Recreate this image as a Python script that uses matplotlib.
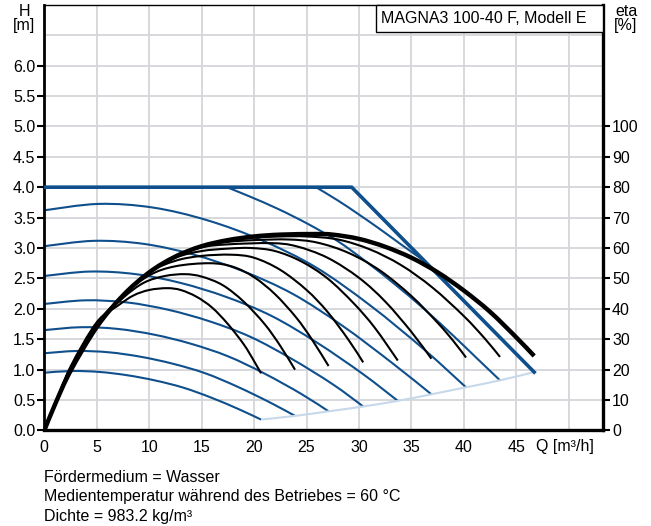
import matplotlib.pyplot as plt
from matplotlib.patches import Rectangle, PathPatch
from matplotlib.path import Path

plt.rcParams['font.family'] = ['Liberation Sans', 'DejaVu Sans']

# Max curve (power/pressure limit), Q [m3/h], H [m]
max_q = [0, 29.3, 46.7]
max_h = [4.0, 4.0, 0.96]

# Speed curves (blue)
speed_q = [
    [0, 2.65, 5.31, 7.96, 10.61, 13.26, 15.92, 18.57, 20.66],
    [0, 3.07, 6.13, 9.20, 12.27, 15.34, 18.40, 21.47, 23.9],
    [0, 3.50, 6.99, 10.49, 13.98, 17.48, 20.98, 24.47, 27.1],
    [0, 3.93, 7.85, 11.78, 15.70, 19.63, 23.55, 27.48, 30.4],
    [0, 4.34, 8.67, 13.01, 17.35, 21.69, 26.02, 30.36, 33.7],
    [0, 4.74, 9.48, 14.21, 18.95, 23.69, 28.43, 33.16, 36.9],
    [0, 5.18, 10.36, 15.54, 20.71, 25.89, 31.07, 36.25, 40.2],
    [17.4, 19.54, 22.34, 25.13, 27.92, 30.71, 33.51, 36.30, 39.09, 41.28, 43.44],
    [25.9, 28.0, 30.0, 32.0, 34.0, 36.2],
]
speed_h = [
    [0.95, 0.978, 0.962, 0.907, 0.821, 0.704, 0.540, 0.348, 0.18],
    [1.27, 1.307, 1.286, 1.212, 1.097, 0.941, 0.721, 0.465, 0.24],
    [1.65, 1.698, 1.670, 1.575, 1.426, 1.222, 0.937, 0.604, 0.315],
    [2.08, 2.140, 2.106, 1.986, 1.798, 1.541, 1.181, 0.762, 0.395],
    [2.54, 2.613, 2.571, 2.425, 2.195, 1.881, 1.442, 0.930, 0.487],
    [3.03, 3.118, 3.068, 2.893, 2.619, 2.245, 1.721, 1.110, 0.595],
    [3.62, 3.725, 3.665, 3.456, 3.129, 2.682, 2.056, 1.326, 0.71],
    [4.0, 3.85, 3.638, 3.396, 3.119, 2.772, 2.391, 1.984, 1.542, 1.18, 0.825],
    [4.0, 3.78, 3.55, 3.31, 3.06, 2.79],
]

# End of the speed curves (light blue)
end_q = [20.66, 23.9, 27.1, 30.4, 33.7, 36.9, 40.2, 43.44, 46.7]
end_h = [0.18, 0.24, 0.315, 0.395, 0.487, 0.595, 0.71, 0.825, 0.96]

# Efficiency curves (black), eta [%]
eta_q = [
    [0, 1, 2.5, 5, 7, 8.5, 10, 11.7, 13, 14.5, 16, 17.5, 19, 20, 20.66],
    [0, 1, 2.5, 5, 7.5, 9.5, 11.5, 13.4, 15, 17, 19, 21, 22.5, 23.9],
    [0, 1, 2.5, 5, 7.5, 10, 12.5, 15.8, 18, 20, 22, 24, 25.5, 27.1],
    [0, 1, 2.5, 5, 7.5, 10, 12.5, 15, 17.8, 20, 22.5, 25, 27, 29, 30.4],
    [0, 1, 2.5, 5, 7.5, 10, 12.5, 15, 17.5, 19.7, 22, 24.5, 27, 29.5, 31.5, 33.7],
    [0, 1, 2.5, 5, 7.5, 10, 12.5, 15, 17.5, 21.6, 24, 27, 30, 32.5, 35, 36.9],
    [0, 1, 2.5, 5, 7.5, 10, 12.5, 15, 17.5, 20, 23.3, 26, 29, 32, 35, 37.5, 39, 40.2],
    [0, 1, 2.5, 5, 7.5, 10, 12.5, 15, 17.5, 20, 22.5, 25, 28, 31, 34, 37, 40, 42, 43.44],
]
eta_v = [
    [0, 8.4, 21.0, 35.6, 41.0, 44.4, 46.2, 46.8, 46.2, 44.0, 40.4, 35.0, 28.4, 22.8, 18.8],
    [0, 8.4, 20.6, 35.2, 43.6, 48.6, 50.8, 51.4, 50.6, 47.8, 42.4, 35.0, 27.8, 20.0],
    [0, 8.4, 20.4, 34.9, 44.4, 51.0, 54.0, 55.0, 53.8, 50.4, 44.8, 37.2, 30.0, 21.2],
    [0, 8.4, 20.2, 34.6, 44.4, 52.0, 55.8, 57.4, 57.8, 56.8, 52.8, 46.2, 39.0, 29.8, 22.4],
    [0, 8.4, 20.0, 34.4, 44.4, 52.0, 56.8, 59.0, 59.8, 60.0, 59.0, 55.6, 50.0, 41.8, 33.8, 23.0],
    [0, 8.4, 19.9, 34.3, 44.4, 52.0, 57.2, 60.2, 61.2, 61.6, 60.6, 56.8, 50.2, 42.4, 32.4, 23.6],
    [0, 8.4, 19.8, 34.2, 44.4, 52.0, 57.2, 60.6, 62.0, 62.6, 62.8, 61.8, 58.4, 52.6, 44.2, 35.4, 29.4, 24.0],
    [0, 8.4, 19.7, 34.1, 44.4, 52.0, 57.2, 60.6, 62.6, 63.4, 63.8, 63.8, 62.8, 59.6, 54.4, 47.0, 37.6, 30.2, 24.2],
]
eta_max_q = [0, 1, 2.5, 5, 7.5, 10, 12.5, 15, 17.5, 20, 22.5, 25.8, 27.5, 30, 32.5, 35, 37.5, 40, 42.5, 45, 46.7]
eta_max_v = [0, 8.4, 19.6, 34.0, 44.4, 52.0, 57.2, 60.6, 62.6, 63.8, 64.4, 64.6, 64.4, 63.0, 60.4, 56.8, 52.0, 46.0, 39.0, 30.6, 24.5]

x_ticks = [0, 5, 10, 15, 20, 25, 30, 35, 40, 45, 50]
h_ticks = [0.0, 0.5, 1.0, 1.5, 2.0, 2.5, 3.0, 3.5, 4.0, 4.5, 5.0, 5.5, 6.0]
eta_ticks = [0, 10, 20, 30, 40, 50, 60, 70, 80, 90, 100]

blue = '#0f4f8c'
light_blue = '#c6d8ea'
grid_c = '#d3d6da'
fs = 11.5


def smooth_path(q, v):
    # Catmull-Rom through the read points, as cubic bezier segments
    pts = list(zip(q, v))
    verts = [pts[0]]
    codes = [Path.MOVETO]
    for i in range(len(pts) - 1):
        p0 = pts[i - 1] if i > 0 else pts[i]
        p1 = pts[i]
        p2 = pts[i + 1]
        p3 = pts[i + 2] if i + 2 < len(pts) else pts[i + 1]
        c1 = (p1[0] + (p2[0] - p0[0]) / 6, p1[1] + (p2[1] - p0[1]) / 6)
        c2 = (p2[0] - (p3[0] - p1[0]) / 6, p2[1] - (p3[1] - p1[1]) / 6)
        verts += [c1, c2, p2]
        codes += [Path.CURVE4] * 3
    return Path(verts, codes)


fig = plt.figure(figsize=(6.51, 5.26), dpi=100)
ax = fig.add_axes([0.06805, 0.18156, 0.8582, 0.8095])
ax.set_xlim(0, 53.26)
ax.set_ylim(0, 7.0)

# grid
for x in x_ticks[1:]:
    ax.axvline(x, color=grid_c, lw=1.3, zorder=0)
for y in h_ticks[1:] + [6.5]:
    ax.axhline(y, color=grid_c, lw=1.3, zorder=0)

# blue pump curves
for q, h in zip(speed_q, speed_h):
    ax.add_patch(PathPatch(smooth_path(q, h), fill=False, edgecolor=blue, lw=1.5,
                           capstyle='butt', zorder=2))
ax.add_patch(PathPatch(smooth_path(end_q, end_h), fill=False, edgecolor=light_blue,
                       lw=1.5, zorder=2))
ax.plot(max_q, max_h, color=blue, lw=2.6, zorder=3, solid_joinstyle='miter')

ax.set_xticks(x_ticks)
ax.set_xticklabels([str(v) for v in x_ticks[:-1]] + [''])
ax.set_yticks(h_ticks)
ax.set_yticklabels([f'{v:.1f}' for v in h_ticks])
ax.tick_params(axis='x', length=0, pad=7, labelsize=fs)
ax.tick_params(axis='y', length=5, width=1.5, pad=1.5, labelsize=fs)

ax.spines['left'].set_linewidth(2.0)
ax.spines['bottom'].set_linewidth(2.4)
ax.spines['top'].set_linewidth(1.0)
ax.spines['right'].set_visible(False)

ax.text(46.9, -0.14, 'Q [m³/h]', ha='left', va='top', fontsize=fs, clip_on=False)

# efficiency on right axis
ax2 = ax.twinx()
ax2.set_ylim(0, 140)
for q, e in zip(eta_q, eta_v):
    ax2.add_patch(PathPatch(smooth_path(q, e), fill=False, edgecolor='black', lw=1.5, zorder=2))
ax2.add_patch(PathPatch(smooth_path(eta_max_q, eta_max_v), fill=False, edgecolor='black',
                        lw=3.2, zorder=3))
ax2.set_yticks(eta_ticks)
ax2.tick_params(axis='y', length=5, width=1.5, pad=1.5, labelsize=fs)
for s in ['left', 'top', 'bottom']:
    ax2.spines[s].set_visible(False)
ax2.spines['right'].set_linewidth(2.4)

# title box
ax2.add_patch(Rectangle((0.5937, 0.9359), 0.4063, 0.0641, transform=ax2.transAxes,
                        facecolor='white', edgecolor='black', lw=1.0, zorder=10, clip_on=False))
ax2.text(0.6035, 0.968, 'MAGNA3 100-40 F, Modell E', transform=ax2.transAxes,
         ha='left', va='center', fontsize=fs, zorder=11)

fig.text(24 / 651, 1 - 4 / 526, 'H\n[m]', ha='center', va='top', fontsize=fs, linespacing=0.95)
fig.text(626 / 651, 1 - 4 / 526, 'eta\n[%]', ha='center', va='top', fontsize=fs, linespacing=0.95)

fig.text(44 / 651, 1 - 478 / 526, 'Fördermedium = Wasser', ha='left', va='center', fontsize=fs)
fig.text(44 / 651, 1 - 497 / 526, 'Medientemperatur während des Betriebes = 60 °C',
         ha='left', va='center', fontsize=fs)
fig.text(44 / 651, 1 - 516 / 526, 'Dichte = 983.2 kg/m³', ha='left', va='center', fontsize=fs)

fig.savefig('out.png', dpi=100)
